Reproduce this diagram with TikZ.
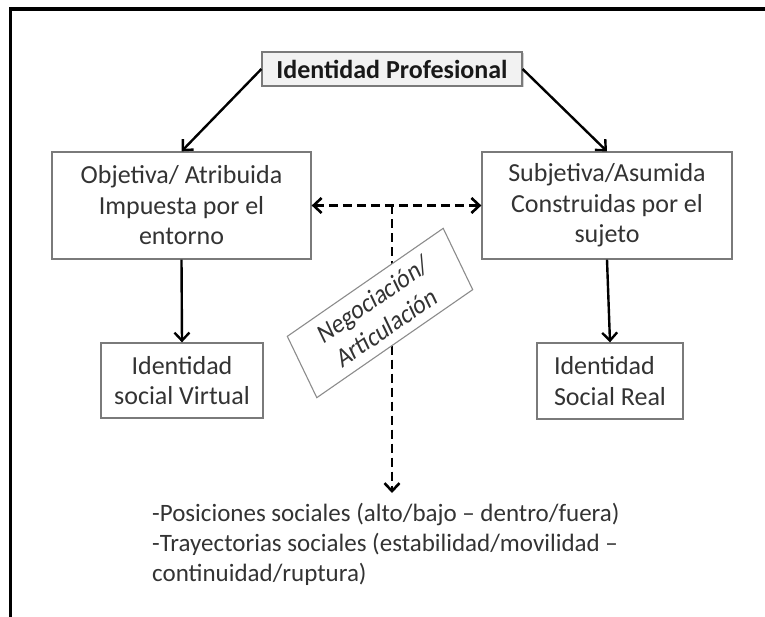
\documentclass[tikz,border=0pt]{standalone}
\usepackage{fontspec}
\setmainfont{Carlito}
\usetikzlibrary{arrows.meta,shadows}
\definecolor{boxline}{HTML}{7A7A7A}
\definecolor{neglinecol}{HTML}{8C8C8C}
\definecolor{txt}{HTML}{333333}
\definecolor{topfill}{HTML}{F2F2F2}
\begin{document}
\begin{tikzpicture}[x=1pt,y=-1pt,
  box/.style={draw=boxline, line width=1.3pt, fill=white, inner sep=0pt, align=center,
    text=txt, font=\fontsize{26}{30.5}\selectfont},
  topbox/.style={draw=boxline, line width=1.2pt, fill=topfill, inner sep=0pt,
    text=black!90, font=\bfseries\fontsize{26}{31}\selectfont,
    drop shadow={shadow xshift=1.5pt, shadow yshift=-1.5pt, opacity=0.35}},
  negbox/.style={draw=neglinecol, line width=1.1pt, fill=white, inner sep=0pt, align=center,
    text=txt, font=\fontsize{23}{27}\selectfont},
  arr/.style={line width=2.4pt, -{Straight Barb[length=8pt,width=15pt]}},
  darr/.style={line width=2.6pt, dash pattern=on 9pt off 5pt},
  frameline/.style={line width=3.2pt, black}]
\useasboundingbox (0,0) rectangle (765,617);
% open frame
\draw[frameline] (10.5,617) -- (10.5,9) -- (765,9);
% nodes
\node[topbox, minimum width=260pt, minimum height=34pt] (top) at (392,69) {Identidad Profesional};
\node[box, minimum width=259pt, minimum height=107pt] (left) at (181.5,205.5)
  {Objetiva/ Atribuida\\Impuesta por el\\entorno};
\node[box, minimum width=250pt, minimum height=107pt] (right) at (607,205.5)
  {Subjetiva/Asumida\\Construidas por el\\sujeto};
\node[box, minimum width=162pt, minimum height=75pt] (lb) at (182,380.5)
  {Identidad\\social Virtual};
\node[box, align=left, minimum width=146pt, minimum height=76pt] (rb) at (610,381)
  {Identidad\\Social Real};
% dashed connectors
\coordinate (mid) at (392,205.5);
\coordinate (tip) at (392,493);
\draw[darr, -{Straight Barb[length=8pt,width=15pt]}] (mid) -- (tip);
\draw[darr, {Straight Barb[length=8pt,width=15pt]}-{Straight Barb[length=8pt,width=15pt]}]
  (left.east) -- (right.west);
% rotated label
\begin{scope}[shift={(380,313)}, yscale=1.2]
\node[negbox, rotate=30, transform shape, minimum width=180pt, minimum height=59pt] (neg) at (0,0)
  {Negociación/\\Articulación};
\end{scope}
% solid arrows
\draw[arr] (top.west) -- (left.north);
\draw[arr] (top.east) -- (right.north);
\draw[arr] (left.south) -- (lb.north);
\draw[arr] (right.south) -- (rb.north);
% bottom text
\node[anchor=north west, align=left, inner sep=0pt, text=txt,
  font=\fontsize{25}{30}\selectfont] (list) at (152,503)
  {-Posiciones sociales (alto/bajo – dentro/fuera)\\-Trayectorias sociales (estabilidad/movilidad –\\continuidad/ruptura)};
\end{tikzpicture}
\end{document}
